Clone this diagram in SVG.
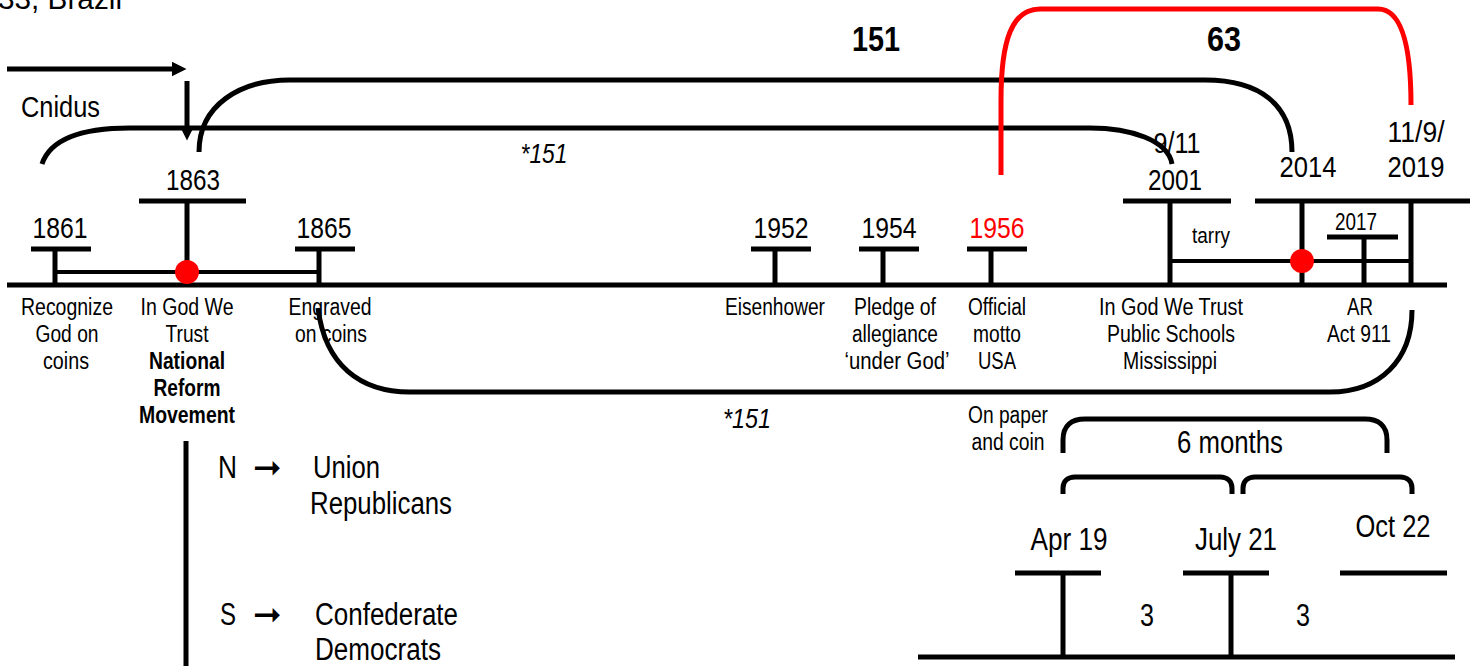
<svg xmlns="http://www.w3.org/2000/svg" width="1478" height="666" viewBox="0 0 1478 666">
<style>
text{font-family:"Liberation Sans Narrow","Arial Narrow","Liberation Sans",sans-serif;fill:#000}
.yr{font-size:30px;text-anchor:middle}
.lb{font-size:23.5px;text-anchor:middle}
.bl{font-weight:bold}
.big{font-size:31px}
.mid{text-anchor:middle}
.arr{font-family:"DejaVu Sans",sans-serif;font-size:34px}
.ln{stroke:#000;stroke-width:5;fill:none}
.thin{stroke:#000;stroke-width:4;fill:none}
.red{stroke:#f00;stroke-width:5;fill:none}
.dot{fill:#f00}
</style>
<defs>
<marker id="ah" markerWidth="3" markerHeight="3" refX="0.5" refY="1.5" orient="auto" markerUnits="strokeWidth"><path d="M0,0 L3,1.5 L0,3 Z" fill="#000"/></marker>
</defs>

<text x="-2" y="9" style="font-size:30px" textLength="124" lengthAdjust="spacingAndGlyphs">33, Brazil</text>
<text x="21" y="117" style="font-size:30px" textLength="79" lengthAdjust="spacingAndGlyphs">Cnidus</text>
<text x="876" y="51" style="font-size:35px" class="bl mid" textLength="48" lengthAdjust="spacingAndGlyphs">151</text>
<text x="1224" y="51" style="font-size:35px" class="bl mid" textLength="34" lengthAdjust="spacingAndGlyphs">63</text>
<text x="544" y="163" style="font-size:28px;font-style:italic" class="mid" textLength="47" lengthAdjust="spacingAndGlyphs">*151</text>
<text x="747" y="428" style="font-size:28px;font-style:italic" class="mid" textLength="48" lengthAdjust="spacingAndGlyphs">*151</text>

<g id="connectors">
<line x1="7" y1="69" x2="174" y2="69" class="ln" marker-end="url(#ah)"/>
<line x1="187" y1="81" x2="187" y2="128" class="ln" marker-end="url(#ah)"/>
<path class="ln" d="M199,152 C199,105 240,80 290,80 L1205,80 C1260,80 1292,105 1292,152"/>
<path class="ln" d="M42,164 C50,140 80,128 130,128 L1090,128 C1130,128 1168,140 1172,164"/>
<path class="red" d="M1001,175 L1001,100 C1001,40 1012,9 1040,9 L1378,9 C1400,9 1411,40 1411,105"/>
<path class="ln" d="M318,308 C325,365 360,392 410,392 L1330,392 C1380,392 1412,360 1412,310"/>
<path class="ln" d="M1063,453 L1063,440 C1063,425 1072,419 1085,419 L1365,419 C1378,419 1387,425 1387,440 L1387,453"/>
<path class="ln" d="M1063,494 L1063,488 C1063,481 1068,477 1075,477 L1220,477 C1227,477 1232,481 1232,488 L1232,494"/>
<path class="ln" d="M1243,494 L1243,488 C1243,481 1248,477 1255,477 L1400,477 C1407,477 1412,481 1412,488 L1412,494"/>
<line x1="186" y1="441" x2="186" y2="666" class="ln"/>
</g>

<g id="timeline">
<line x1="7" y1="285" x2="1447" y2="285" class="ln"/>
<line x1="55" y1="272" x2="319" y2="272" class="thin"/>
<line x1="1170" y1="261" x2="1411" y2="261" class="thin"/>
</g>

<g id="n1861">
<line x1="31" y1="249" x2="91" y2="249" class="ln"/><line x1="55" y1="249" x2="55" y2="285" class="ln"/>
<text x="60" y="238" class="yr" textLength="55" lengthAdjust="spacingAndGlyphs">1861</text>
<text class="lb" x="67" y="315" textLength="92" lengthAdjust="spacingAndGlyphs">Recognize</text>
<text class="lb" x="67" y="342" textLength="63" lengthAdjust="spacingAndGlyphs">God on</text>
<text class="lb" x="66" y="369" textLength="46" lengthAdjust="spacingAndGlyphs">coins</text>
</g>
<g id="n1863">
<line x1="139" y1="201" x2="246" y2="201" class="ln"/><line x1="187" y1="201" x2="187" y2="285" class="ln"/>
<circle cx="187" cy="272" r="12" class="dot"/>
<text x="193" y="190" class="yr" textLength="54" lengthAdjust="spacingAndGlyphs">1863</text>
<text class="lb" x="187" y="315" textLength="93" lengthAdjust="spacingAndGlyphs">In God We</text>
<text class="lb" x="187" y="342" textLength="43" lengthAdjust="spacingAndGlyphs">Trust</text>
<text class="lb bl" x="187" y="369" textLength="76" lengthAdjust="spacingAndGlyphs">National</text>
<text class="lb bl" x="187" y="396" textLength="67" lengthAdjust="spacingAndGlyphs">Reform</text>
<text class="lb bl" x="187" y="423" textLength="96" lengthAdjust="spacingAndGlyphs">Movement</text>
</g>
<g id="n1865">
<line x1="295" y1="249" x2="355" y2="249" class="ln"/><line x1="319" y1="249" x2="319" y2="285" class="ln"/>
<text x="324" y="238" class="yr" textLength="55" lengthAdjust="spacingAndGlyphs">1865</text>
<text class="lb" x="330" y="315" textLength="83" lengthAdjust="spacingAndGlyphs">Engraved</text>
<text class="lb" x="331" y="342" textLength="72" lengthAdjust="spacingAndGlyphs">on coins</text>
</g>
<g id="n1952">
<line x1="751" y1="249" x2="811" y2="249" class="ln"/><line x1="775" y1="249" x2="775" y2="285" class="ln"/>
<text x="781" y="238" class="yr" textLength="55" lengthAdjust="spacingAndGlyphs">1952</text>
<text class="lb" x="775" y="315" textLength="100" lengthAdjust="spacingAndGlyphs">Eisenhower</text>
</g>
<g id="n1954">
<line x1="859" y1="249" x2="919" y2="249" class="ln"/><line x1="883" y1="249" x2="883" y2="285" class="ln"/>
<text x="889" y="238" class="yr" textLength="55" lengthAdjust="spacingAndGlyphs">1954</text>
<text class="lb" x="895" y="315" textLength="82" lengthAdjust="spacingAndGlyphs">Pledge of</text>
<text class="lb" x="895" y="342" textLength="86" lengthAdjust="spacingAndGlyphs">allegiance</text>
<text class="lb" x="897" y="369" textLength="105" lengthAdjust="spacingAndGlyphs">‘under God’</text>
</g>
<g id="n1956">
<line x1="967" y1="249" x2="1027" y2="249" class="ln"/><line x1="991" y1="249" x2="991" y2="285" class="ln"/>
<text x="997" y="238" class="yr" style="fill:#f00" textLength="55" lengthAdjust="spacingAndGlyphs">1956</text>
<text class="lb" x="997" y="315" textLength="58" lengthAdjust="spacingAndGlyphs">Official</text>
<text class="lb" x="997" y="342" textLength="48" lengthAdjust="spacingAndGlyphs">motto</text>
<text class="lb" x="997" y="369" textLength="38" lengthAdjust="spacingAndGlyphs">USA</text>
<text class="lb" x="1008" y="423" textLength="80" lengthAdjust="spacingAndGlyphs">On paper</text>
<text class="lb" x="1008" y="450" textLength="73" lengthAdjust="spacingAndGlyphs">and coin</text>
</g>
<g id="n2001">
<line x1="1123" y1="201" x2="1231" y2="201" class="ln"/><line x1="1170" y1="201" x2="1170" y2="285" class="ln"/>
<text x="1177" y="153" class="yr" textLength="47" lengthAdjust="spacingAndGlyphs">9/11</text>
<text x="1175" y="190" class="yr" textLength="54" lengthAdjust="spacingAndGlyphs">2001</text>
<text x="1211" y="243" style="font-size:22px" class="mid" textLength="38" lengthAdjust="spacingAndGlyphs">tarry</text>
<text class="lb" x="1171" y="315" textLength="144" lengthAdjust="spacingAndGlyphs">In God We Trust</text>
<text class="lb" x="1171" y="342" textLength="128" lengthAdjust="spacingAndGlyphs">Public Schools</text>
<text class="lb" x="1170" y="369" textLength="94" lengthAdjust="spacingAndGlyphs">Mississippi</text>
</g>
<g id="n2014">
<line x1="1255" y1="201" x2="1470" y2="201" class="ln"/><line x1="1302" y1="201" x2="1302" y2="285" class="ln"/>
<circle cx="1302" cy="261" r="12" class="dot"/>
<text x="1308" y="177" class="yr" textLength="57" lengthAdjust="spacingAndGlyphs">2014</text>
</g>
<g id="n2017">
<line x1="1327" y1="237" x2="1398" y2="237" class="ln"/><line x1="1364" y1="237" x2="1364" y2="285" class="ln"/>
<text x="1356" y="230" style="font-size:23px" class="mid" textLength="42" lengthAdjust="spacingAndGlyphs">2017</text>
</g>
<g id="n2019">
<line x1="1411" y1="201" x2="1411" y2="285" class="ln"/>
<text x="1416" y="142" class="yr" textLength="57" lengthAdjust="spacingAndGlyphs">11/9/</text>
<text x="1416" y="177" class="yr" textLength="57" lengthAdjust="spacingAndGlyphs">2019</text>
<text class="lb" x="1360" y="315" textLength="26" lengthAdjust="spacingAndGlyphs">AR</text>
<text class="lb" x="1359" y="342" textLength="64" lengthAdjust="spacingAndGlyphs">Act 911</text>
</g>

<g id="parties">
<text x="218" y="478" class="big" textLength="19" lengthAdjust="spacingAndGlyphs">N</text>
<text x="253" y="479" class="arr">➞</text>
<text x="313" y="478" class="big" textLength="67" lengthAdjust="spacingAndGlyphs">Union</text>
<text x="310" y="514" class="big" textLength="142" lengthAdjust="spacingAndGlyphs">Republicans</text>
<text x="220" y="625" class="big" textLength="16" lengthAdjust="spacingAndGlyphs">S</text>
<text x="253" y="626" class="arr">➞</text>
<text x="315" y="625" class="big" textLength="143" lengthAdjust="spacingAndGlyphs">Confederate</text>
<text x="315" y="660" class="big" textLength="126" lengthAdjust="spacingAndGlyphs">Democrats</text>
</g>

<text x="1230" y="453" class="big mid" textLength="106" lengthAdjust="spacingAndGlyphs">6 months</text>

<g id="bottom">
<line x1="918" y1="657" x2="1455" y2="657" class="ln"/>
<g id="apr19"><line x1="1015" y1="573" x2="1101" y2="573" class="ln"/><line x1="1063" y1="573" x2="1063" y2="657" class="ln"/>
<text x="1069" y="550" class="big mid" textLength="77" lengthAdjust="spacingAndGlyphs">Apr 19</text></g>
<g id="jul21"><line x1="1183" y1="573" x2="1269" y2="573" class="ln"/><line x1="1231" y1="573" x2="1231" y2="657" class="ln"/>
<text x="1236" y="550" class="big mid" textLength="82" lengthAdjust="spacingAndGlyphs">July 21</text></g>
<g id="oct22"><line x1="1340" y1="573" x2="1447" y2="573" class="ln"/>
<text x="1393" y="537" class="big mid" textLength="75" lengthAdjust="spacingAndGlyphs">Oct 22</text></g>
<text x="1147" y="626" class="big mid" textLength="14" lengthAdjust="spacingAndGlyphs">3</text>
<text x="1303" y="626" class="big mid" textLength="14" lengthAdjust="spacingAndGlyphs">3</text>
</g>
</svg>
